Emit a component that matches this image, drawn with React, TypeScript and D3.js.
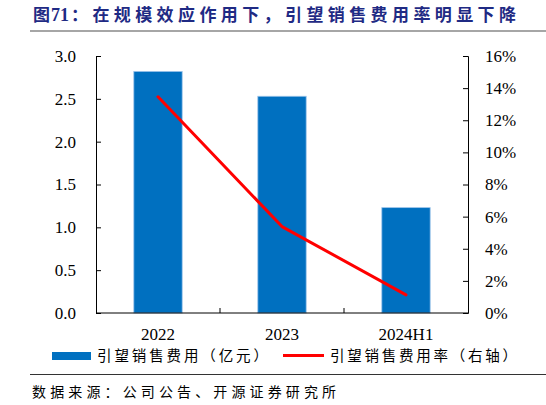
import * as d3 from "d3";
import { useRef, useEffect } from "react";

const categories = ["2022", "2023", "2024H1"];
const salesExpense = [2.82, 2.53, 1.23]; // 亿元
const expenseRate = [0.1346, 0.0538, 0.0113]; // 右轴
const leftTicks = [0, 0.5, 1.0, 1.5, 2.0, 2.5, 3.0];
const rightTicks = [0, 0.02, 0.04, 0.06, 0.08, 0.1, 0.12, 0.14, 0.16];

const titleHead = "图";
const titleNum = "71";
const titleRest = "：在规模效应作用下，引望销售费用率明显下降";
const barLabel = "引望销售费用（亿元）";
const lineLabel = "引望销售费用率（右轴）";
const source = "数据来源：公司公告、开源证券研究所";

export default function App({
  width = 546,
  height = 405,
  marginTop = 56,
  plotBottom = 313,
  marginLeft = 96,
  plotRight = 468
}) {
  const gLeft = useRef(null);
  const gRight = useRef(null);

  const x = d3.scaleBand(categories, [marginLeft, plotRight]).paddingInner(0.61).paddingOuter(0.305);
  const yL = d3.scaleLinear([0, 3], [plotBottom, marginTop]);
  const yR = d3.scaleLinear([0, 0.16], [plotBottom, marginTop]);
  const line = d3.line<number>()
    .x((d, i) => x(categories[i])! + x.bandwidth() / 2)
    .y(d => yR(d));

  const serif = "'Liberation Serif', 'Times New Roman', serif";
  const cjk = "'Noto Sans CJK SC', sans-serif";

  useEffect(() => {
    const left = d3.select(gLeft.current);
    left.call(d3.axisLeft(yL).tickValues(leftTicks).tickFormat(d3.format(".1f"))
      .tickSizeInner(-5).tickSizeOuter(-5).tickPadding(20));
    const right = d3.select(gRight.current);
    right.call(d3.axisRight(yR).tickValues(rightTicks).tickFormat(d => Math.round(+d * 100) + "%")
      .tickSizeInner(-5).tickSizeOuter(-5).tickPadding(17));
    [left, right].forEach(g => {
      g.attr("font-family", serif).attr("font-size", 17);
      g.selectAll("path, line").attr("stroke", "#000").attr("stroke-width", 1);
      g.selectAll("text").attr("fill", "#000");
    });
  }, []);

  const bounds = d3.range(1, categories.length).map(i => marginLeft + i * x.step());

  return (
    <svg width={width} height={height} style={{ position: "absolute", left: 0, top: 0, background: "#fff" }}>
      <text x={33} y={21} fill="#1f2a84" fontFamily={cjk} fontWeight="bold" fontSize={17}>
        <tspan>{titleHead}</tspan>
        <tspan fontFamily={serif} fontSize={18} dx={1}>{titleNum}</tspan>
        <tspan x={71} textLength={445} lengthAdjust="spacing">{titleRest}</tspan>
      </text>
      <line x1={30} x2={546} y1={31} y2={31} stroke="#888" strokeWidth={1.5} />

      {salesExpense.map((v, i) => (
        <rect key={categories[i]} x={x(categories[i])} y={yL(v)} width={x.bandwidth()}
          height={plotBottom - yL(v)} fill="#0070c0" stroke="#9cc4ea" strokeWidth={0.8} />
      ))}

      <path d={line(expenseRate) ?? ""} fill="none" stroke="#ff0000" strokeWidth={3} strokeLinecap="round" strokeLinejoin="round" />

      <line x1={marginLeft} x2={plotRight} y1={plotBottom} y2={plotBottom} stroke="#000" />
      {bounds.map(b => (
        <line key={b} x1={b} x2={b} y1={plotBottom} y2={plotBottom - 5} stroke="#000" />
      ))}
      {categories.map(c => (
        <text key={c} x={x(c)! + x.bandwidth() / 2} y={334} dy="0.35em" textAnchor="middle"
          fontFamily={serif} fontSize={17}>{c}</text>
      ))}

      <g ref={gLeft} transform={`translate(${marginLeft},0)`} />
      <g ref={gRight} transform={`translate(${plotRight},0)`} />

      <rect x={52} y={352} width={39} height={8} fill="#0070c0" />
      <text x={97} y={356} dy="0.35em" fontFamily={cjk} fontSize={14.5} textLength={171} lengthAdjust="spacing">{barLabel}</text>
      <line x1={283} x2={324} y1={355.5} y2={355.5} stroke="#ff0000" strokeWidth={3} />
      <text x={330} y={356} dy="0.35em" fontFamily={cjk} fontSize={14.5} textLength={187} lengthAdjust="spacing">{lineLabel}</text>

      <line x1={30} x2={546} y1={374.5} y2={374.5} stroke="#333" strokeWidth={1} />
      <text x={32} y={392} dy="0.35em" fontFamily={cjk} fontSize={14} textLength={304} lengthAdjust="spacing">{source}</text>
    </svg>
  );
}
